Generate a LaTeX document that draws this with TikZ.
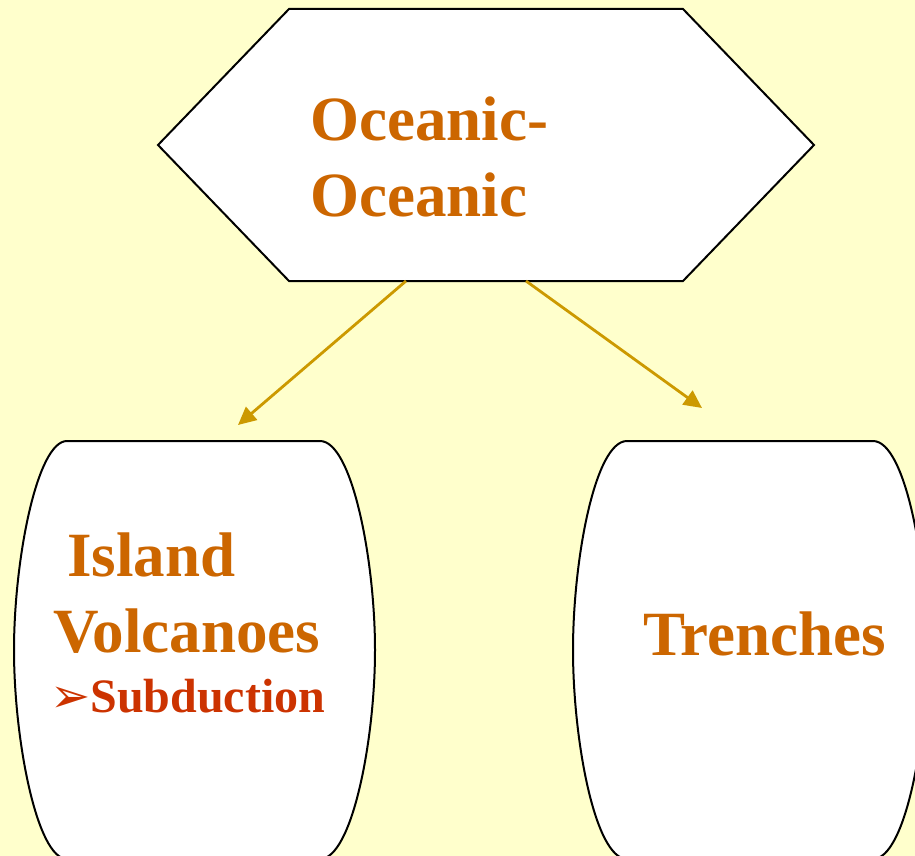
\documentclass[tikz,border=0pt]{standalone}
\usepackage{fontspec}
\setmainfont{Liberation Serif}
\newfontfamily\dejavu{DejaVu Sans}
\usetikzlibrary{arrows.meta}
\definecolor{bgyellow}{HTML}{FFFFCC}
\definecolor{titleorange}{HTML}{CC6600}
\definecolor{subred}{HTML}{CC3300}
\definecolor{arrowgold}{HTML}{CC9900}
\tikzset{
  shapeline/.style={draw=black, line width=2pt, fill=white},
  bigtext/.style={text=titleorange, font=\fontsize{63}{76}\selectfont\bfseries, inner sep=0pt, align=left},
  subtext/.style={text=subred, font=\fontsize{48}{56}\selectfont\bfseries, inner sep=0pt},
  link/.style={draw=arrowgold, line width=2.8pt, -{Triangle[length=18pt,width=17pt]}}
}
\begin{document}
\begin{tikzpicture}[x=1pt,y=-1pt]
\fill[bgyellow] (0,0) rectangle (915,856);
\useasboundingbox (0,0) rectangle (915,856);
\begin{scope}
\clip (0,0) rectangle (915,856);
% hexagon
\draw[shapeline] (289,9) -- (683,9) -- (814,145) -- (683,281) -- (289,281) -- (158,145) -- cycle;
% left box
\draw[shapeline] (67,441) -- (320,441) .. controls (352,441) and (375,560) .. (375,650)
  .. controls (375,740) and (352,859) .. (320,859) -- (67,859)
  .. controls (37,859) and (14,740) .. (14,650) .. controls (14,560) and (37,441) .. (67,441) -- cycle;
% right box
\draw[shapeline] (627,441) -- (873,441) .. controls (905,441) and (927,560) .. (927,650)
  .. controls (927,740) and (905,859) .. (873,859) -- (627,859)
  .. controls (595,859) and (573,740) .. (573,650) .. controls (573,560) and (595,441) .. (627,441) -- cycle;
\end{scope}
\coordinate (hexL) at (406,281);
\coordinate (hexR) at (526,281);
\coordinate (tipL) at (238,425);
\coordinate (tipR) at (702,408);
\draw[link] (hexL) -- (tipL);
\draw[link] (hexR) -- (tipR);
\node[bigtext, anchor=base west] (title) at (310,216) {Oceanic-\\Oceanic};
\node[bigtext, anchor=base west] (island) at (53,652) {\hspace{14pt}Island\\Volcanoes};
\node[subtext, anchor=base west] (sub) at (50,712) {{\dejavu\fontsize{48}{50}\selectfont ➢}Subduction};
\node[bigtext, anchor=base west] (trench) at (643,655) {Trenches};
\end{tikzpicture}
\end{document}
